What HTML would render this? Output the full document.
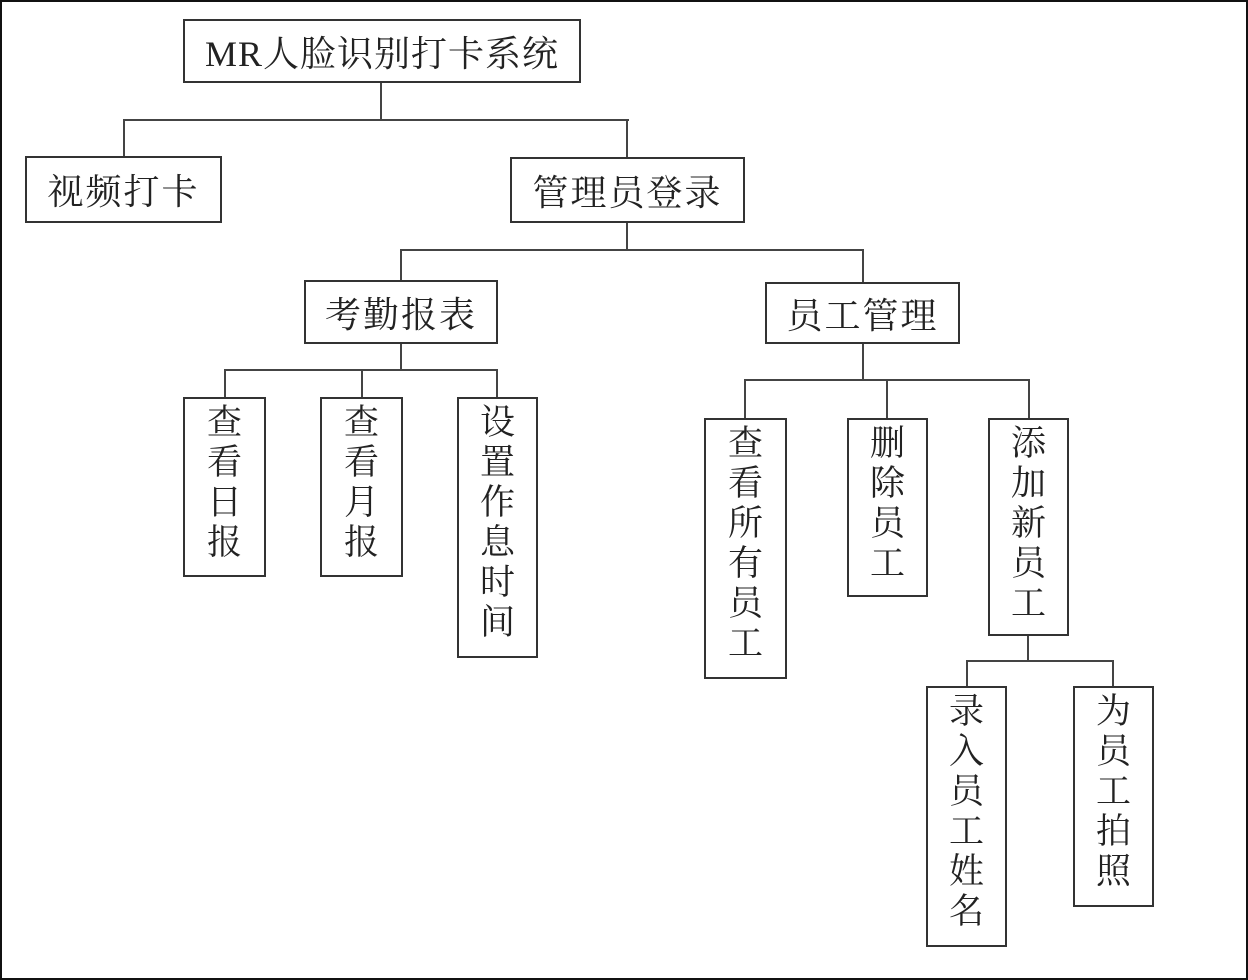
<!DOCTYPE html>
<html><head><meta charset="utf-8"><style>
html,body{margin:0;padding:0;background:#fff;}
#c{position:relative;width:1248px;height:980px;overflow:hidden;}
#f{position:absolute;left:0;top:0;width:1248px;height:980px;box-sizing:border-box;border:2px solid #111;}
.b{position:absolute;box-sizing:border-box;border:2px solid #333;background:#fff;font-family:"Liberation Serif","Noto Serif CJK SC",serif;color:#222;text-align:center;}
.h{font-size:36px;display:flex;align-items:center;justify-content:center;letter-spacing:2px;}
.v{font-size:35px;line-height:40px;padding-top:4px;}
.l{position:absolute;background:#444;}
</style></head><body><div id="c"><div id="f"></div>
<div class="l" style="left:380px;top:80px;width:2px;height:41px"></div>
<div class="l" style="left:123px;top:119px;width:506px;height:2px"></div>
<div class="l" style="left:123px;top:119px;width:2px;height:38px"></div>
<div class="l" style="left:626px;top:119px;width:2px;height:38px"></div>
<div class="l" style="left:626px;top:220px;width:2px;height:31px"></div>
<div class="l" style="left:400px;top:249px;width:464px;height:2px"></div>
<div class="l" style="left:400px;top:249px;width:2px;height:32px"></div>
<div class="l" style="left:862px;top:249px;width:2px;height:34px"></div>
<div class="l" style="left:400px;top:341px;width:2px;height:30px"></div>
<div class="l" style="left:224px;top:369px;width:274px;height:2px"></div>
<div class="l" style="left:224px;top:369px;width:2px;height:29px"></div>
<div class="l" style="left:361px;top:369px;width:2px;height:29px"></div>
<div class="l" style="left:496px;top:369px;width:2px;height:29px"></div>
<div class="l" style="left:862px;top:341px;width:2px;height:40px"></div>
<div class="l" style="left:744px;top:379px;width:286px;height:2px"></div>
<div class="l" style="left:744px;top:379px;width:2px;height:40px"></div>
<div class="l" style="left:886px;top:379px;width:2px;height:40px"></div>
<div class="l" style="left:1028px;top:379px;width:2px;height:40px"></div>
<div class="l" style="left:1027px;top:633px;width:2px;height:29px"></div>
<div class="l" style="left:966px;top:660px;width:148px;height:2px"></div>
<div class="l" style="left:966px;top:660px;width:2px;height:27px"></div>
<div class="l" style="left:1112px;top:660px;width:2px;height:27px"></div>
<div class="b h" style="left:183px;top:19px;width:398px;height:64px;letter-spacing:1px">MR人脸识别打卡系统</div>
<div class="b h" style="left:25px;top:156px;width:197px;height:67px">视频打卡</div>
<div class="b h" style="left:510px;top:157px;width:235px;height:66px">管理员登录</div>
<div class="b h" style="left:304px;top:280px;width:194px;height:64px">考勤报表</div>
<div class="b h" style="left:765px;top:282px;width:195px;height:62px">员工管理</div>
<div class="b v" style="left:183px;top:397px;width:83px;height:180px">查<br>看<br>日<br>报</div>
<div class="b v" style="left:320px;top:397px;width:83px;height:180px">查<br>看<br>月<br>报</div>
<div class="b v" style="left:457px;top:397px;width:81px;height:261px">设<br>置<br>作<br>息<br>时<br>间</div>
<div class="b v" style="left:704px;top:418px;width:83px;height:261px">查<br>看<br>所<br>有<br>员<br>工</div>
<div class="b v" style="left:847px;top:418px;width:81px;height:179px">删<br>除<br>员<br>工</div>
<div class="b v" style="left:988px;top:418px;width:81px;height:218px">添<br>加<br>新<br>员<br>工</div>
<div class="b v" style="left:926px;top:686px;width:81px;height:261px">录<br>入<br>员<br>工<br>姓<br>名</div>
<div class="b v" style="left:1073px;top:686px;width:81px;height:221px">为<br>员<br>工<br>拍<br>照</div>
</div></body></html>
